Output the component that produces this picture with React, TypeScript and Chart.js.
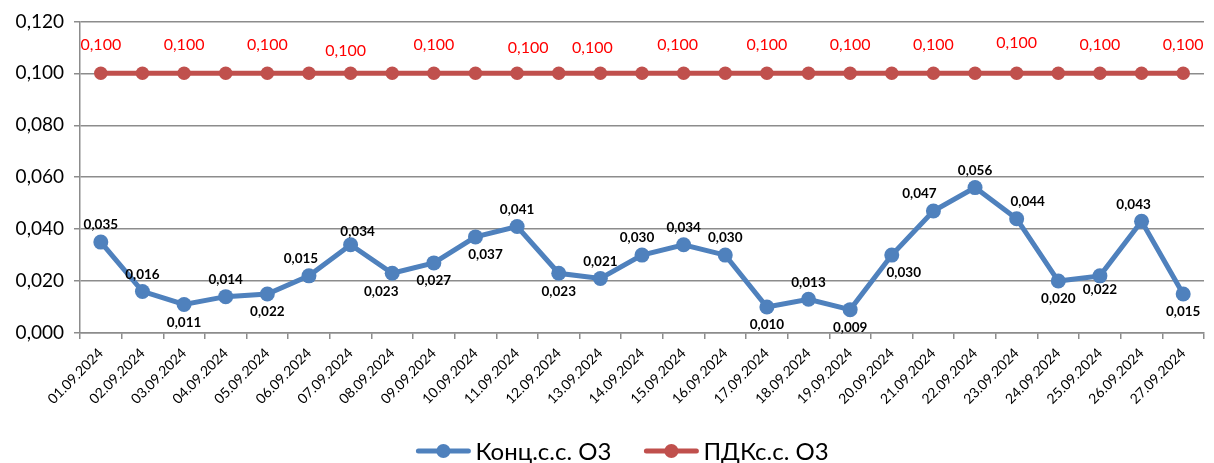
import { useEffect, useRef } from 'react';
import { Chart, registerables } from 'chart.js';

Chart.register(...registerables);

const categories = [
  '01.09.2024', '02.09.2024', '03.09.2024', '04.09.2024', '05.09.2024', '06.09.2024', '07.09.2024',
  '08.09.2024', '09.09.2024', '10.09.2024', '11.09.2024', '12.09.2024', '13.09.2024', '14.09.2024',
  '15.09.2024', '16.09.2024', '17.09.2024', '18.09.2024', '19.09.2024', '20.09.2024', '21.09.2024',
  '22.09.2024', '23.09.2024', '24.09.2024', '25.09.2024', '26.09.2024', '27.09.2024',
];

const concValues = [
  0.035, 0.016, 0.011, 0.014, 0.015, 0.022, 0.034, 0.023, 0.027, 0.037, 0.041, 0.023, 0.021, 0.030,
  0.034, 0.030, 0.010, 0.013, 0.009, 0.030, 0.047, 0.056, 0.044, 0.020, 0.022, 0.043, 0.015,
];

const concLabelText = [
  '0,035', '0,016', '0,011', '0,014', '0,022', '0,015', '0,034', '0,023', '0,027', '0,037', '0,041', '0,023', '0,021', '0,030',
  '0,034', '0,030', '0,010', '0,013', '0,009', '0,030', '0,047', '0,056', '0,044', '0,020', '0,022', '0,043', '0,015',
];

const pdkValues = [
  0.1, 0.1, 0.1, 0.1, 0.1, 0.1, 0.1, 0.1, 0.1, 0.1, 0.1, 0.1, 0.1, 0.1,
  0.1, 0.1, 0.1, 0.1, 0.1, 0.1, 0.1, 0.1, 0.1, 0.1, 0.1, 0.1, 0.1,
];

const pdkLabelText = [
  '0,100', '', '0,100', '', '0,100', '', '0,100', '', '0,100', '', '0,100', '', '0,100', '',
  '0,100', '', '0,100', '', '0,100', '', '0,100', '', '0,100', '', '0,100', '', '0,100',
];

const yTicks = [0, 0.02, 0.04, 0.06, 0.08, 0.1, 0.12];

const seriesNames = ['Конц.с.с. О3', 'ПДКс.с. О3'];

// label placement (a = above, b = below) and small nudges
const concLabelPos = 'aababaabbbabaaaababbaaabbab';
const concLabelDx: Record<number, number> = { 5: -8, 6: 7, 7: -11, 9: 10, 13: -5, 19: 12, 20: -14, 22: 11, 25: -8 };
const concLabelDy: Record<number, number> = { 6: 4, 24: -4 };
const pdkLabelDy: Record<number, number> = { 6: 6, 10: 3, 12: 3, 22: -2 };
const pdkLabelDx: Record<number, number> = { 6: -5, 10: 11, 12: -8, 14: -6 };

const FONT = "Lato, 'Noto Sans', 'Liberation Sans', sans-serif";
const BLUE = '#4f81bd';
const RED = '#c0504d';
const COLORS = [BLUE, RED];

const labelPlugin = {
  id: 'valueLabels',
  afterDatasetsDraw(chart: any) {
    const ctx = chart.ctx;
    ctx.save();
    ctx.textAlign = 'center';
    ctx.textBaseline = 'middle';
    const m0 = chart.getDatasetMeta(0);
    ctx.font = `bold 13.5px ${FONT}`;
    ctx.fillStyle = '#000';
    m0.data.forEach((pt: any, i: number) => {
      const dy = concLabelPos[i] === 'a' ? -17 : 18;
      ctx.fillText(concLabelText[i], pt.x + (concLabelDx[i] || 0), pt.y + dy + (concLabelDy[i] || 0));
    });
    const m1 = chart.getDatasetMeta(1);
    ctx.font = `16px ${FONT}`;
    ctx.fillStyle = '#ff0000';
    m1.data.forEach((pt: any, i: number) => {
      if (!pdkLabelText[i]) return;
      ctx.fillText(pdkLabelText[i], pt.x + (pdkLabelDx[i] || 0), pt.y - 28 + (pdkLabelDy[i] || 0));
    });

    // legend (line + marker, then text)
    ctx.font = `24px ${FONT}`;
    ctx.textAlign = 'left';
    const iconW = 56;
    const textGap = 4;
    const itemGap = 32;
    const widths = seriesNames.map((n) => ctx.measureText(n).width);
    const total = widths.reduce((a, w) => a + iconW + textGap + w, 0) + itemGap;
    let x = 622 - total / 2;
    const y = 451;
    seriesNames.forEach((name, i) => {
      ctx.strokeStyle = COLORS[i];
      ctx.fillStyle = COLORS[i];
      ctx.lineWidth = 5;
      ctx.lineCap = 'round';
      ctx.beginPath();
      ctx.moveTo(x + 3, y);
      ctx.lineTo(x + iconW - 3, y);
      ctx.stroke();
      ctx.beginPath();
      ctx.arc(x + iconW / 2, y, 7, 0, Math.PI * 2);
      ctx.fill();
      ctx.fillStyle = '#000';
      ctx.fillText(name, x + iconW + textGap, y + 1);
      x += iconW + textGap + widths[i] + itemGap;
    });
    ctx.restore();
  },
};

export default function App() {
  const ref = useRef<HTMLCanvasElement>(null);
  useEffect(() => {
    document.body.style.margin = '0';
    const chart = new Chart(ref.current!, {
      type: 'line',
      data: {
        labels: categories,
        datasets: [
          {
            label: seriesNames[0],
            data: concValues,
            borderColor: BLUE,
            backgroundColor: BLUE,
            borderWidth: 5,
            pointRadius: 7.5,
            pointHoverRadius: 7.5,
            pointBorderWidth: 0,
            tension: 0,
          },
          {
            label: seriesNames[1],
            data: pdkValues,
            borderColor: RED,
            backgroundColor: RED,
            borderWidth: 5,
            pointRadius: 6.75,
            pointHoverRadius: 6.75,
            pointBorderWidth: 0,
            tension: 0,
          },
        ],
      },
      options: {
        animation: false,
        responsive: true,
        maintainAspectRatio: false,
        layout: { padding: { top: 12, right: 10, left: 0, bottom: 50 } },
        plugins: {
          tooltip: { enabled: false },
          legend: { display: false },
        },
        scales: {
          x: {
            offset: true,
            afterFit: (s: any) => {
              s.height = 80;
            },
            grid: {
              offset: true,
              drawOnChartArea: false,
              drawTicks: true,
              tickLength: 6,
              color: '#8c8c8c',
              lineWidth: 1.5,
            },
            border: { color: '#8c8c8c', width: 1.5 },
            ticks: {
              autoSkip: false,
              maxRotation: 45,
              minRotation: 45,
              color: '#000',
              font: { family: FONT, size: 14 },
              padding: 6,
            },
          },
          y: {
            min: 0,
            max: 0.12,
            afterBuildTicks: (s: any) => {
              s.ticks = yTicks.map((v) => ({ value: v }));
            },
            afterFit: (s: any) => {
              s.width = 80;
            },
            grid: { color: '#8c8c8c', lineWidth: 1.5, tickLength: 6 },
            border: { color: '#8c8c8c', width: 1.5 },
            ticks: {
              color: '#000',
              padding: 10,
              font: { family: FONT, size: 19 },
              callback: (v: any) => Number(v).toFixed(3).replace('.', ','),
            },
          },
        },
      },
      plugins: [labelPlugin],
    });
    return () => chart.destroy();
  }, []);
  return (
    <div style={{ width: 1214, height: 463, position: 'relative' }}>
      <canvas ref={ref} />
    </div>
  );
}
